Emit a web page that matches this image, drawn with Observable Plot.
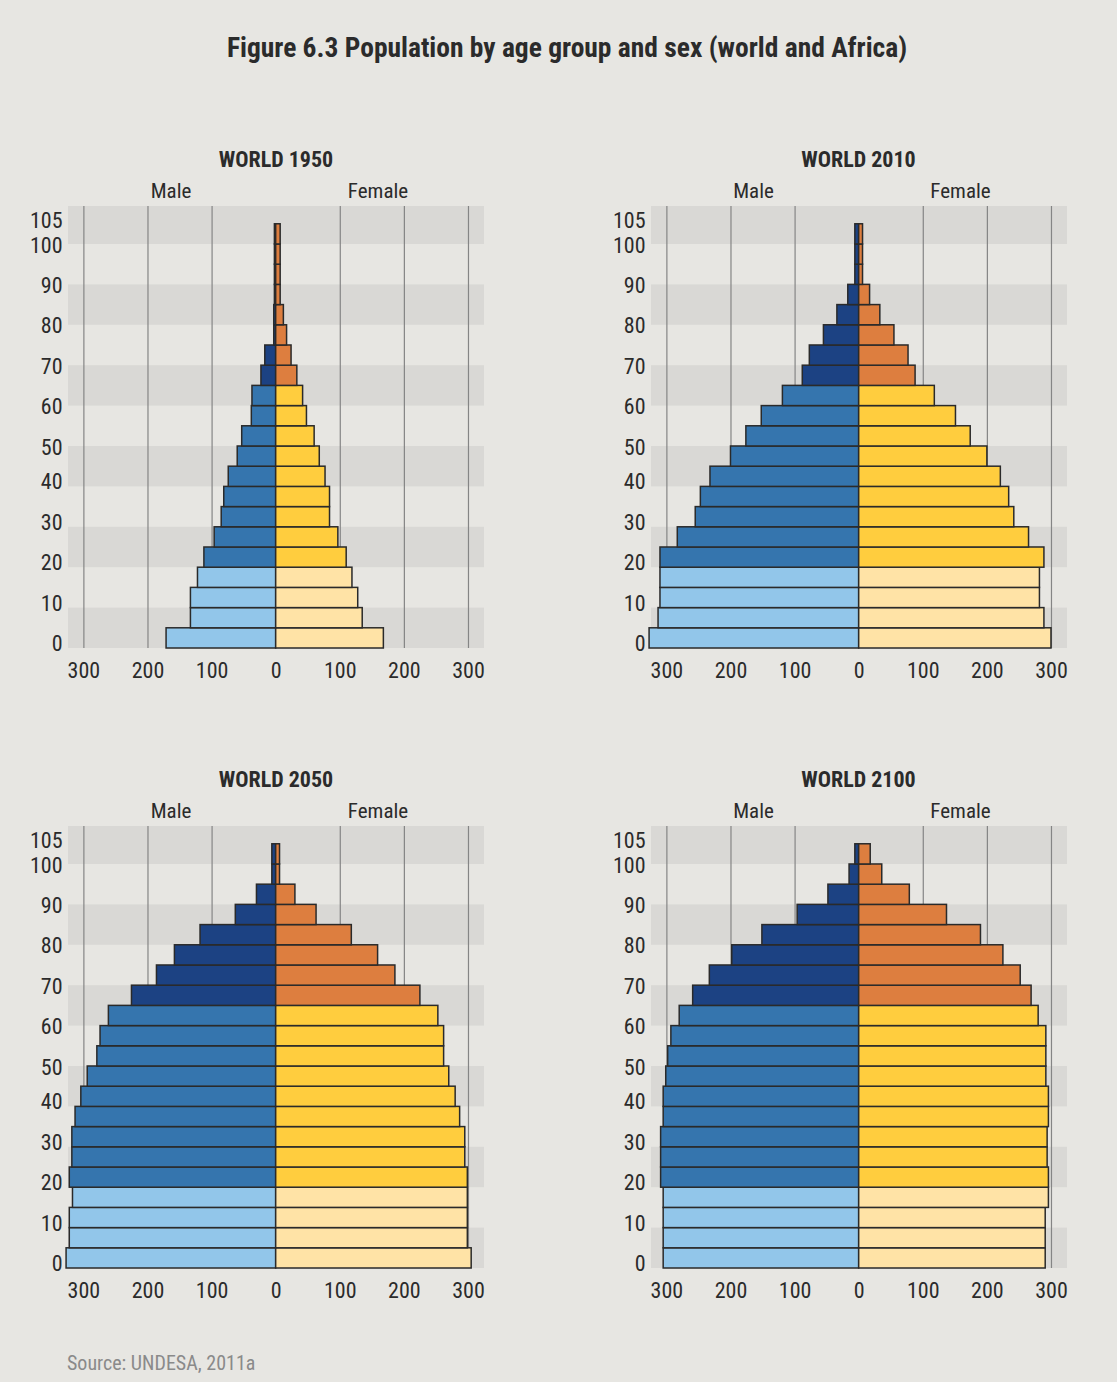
<!DOCTYPE html>
<html>
<head>
<meta charset="utf-8">
<script src="https://cdn.jsdelivr.net/npm/d3@7"></script>
<script src="https://cdn.jsdelivr.net/npm/@observablehq/plot@0.6"></script>
<style>
  body { margin: 0; background: #E7E6E2; }
  #page { position: relative; width: 1117px; height: 1382px; background: #E7E6E2; overflow: hidden; }
  .t { position: absolute; white-space: nowrap; color: #2b2b2b; line-height: 1; }
</style>
</head>
<body>
<div id="page"></div>
<script>
// ---------- data ----------
const ageGroups = [0, 5, 10, 15, 20, 25, 30, 35, 40, 45, 50, 55, 60, 65, 70, 75, 80, 85, 90, 95, 100];
const yTicksLow = [0, 10, 20, 30, 40];
const yTicksHigh = [50, 60, 70, 80, 90, 100];
const yTicksTop = [105];
const xTicks = [-300, -200, -100, 0, 100, 200, 300];
const gridValues = [-300, -200, -100, 100, 200, 300];
const bandStarts = [0, 20, 40, 60, 80, 100];
const panelTitles = ["WORLD 1950", "WORLD 2010", "WORLD 2050", "WORLD 2100"];

const male1950   = [171, 133, 133, 122, 112, 96, 85, 81, 74, 60, 53, 38, 37, 23, 17, 3, 3, 2, 2, 2, 2];
const female1950 = [168, 135, 128, 119, 110, 97, 84, 84, 77, 68, 60, 48, 42, 33, 24, 17, 12, 7, 7, 7, 7];
const male2010   = [327, 313, 310, 310, 310, 283, 255, 247, 232, 200, 176, 152, 119, 88, 77, 55, 34, 17, 6, 6, 6];
const female2010 = [300, 289, 282, 282, 289, 265, 242, 234, 221, 200, 174, 151, 118, 88, 77, 55, 33, 17, 6, 6, 6];
const male2050   = [327, 322, 322, 317, 322, 318, 318, 313, 304, 294, 279, 274, 261, 225, 186, 158, 118, 63, 30, 6, 6];
const female2050 = [305, 299, 299, 299, 299, 295, 295, 287, 280, 270, 262, 262, 253, 225, 186, 159, 118, 63, 30, 6, 6];
const male2100   = [305, 305, 305, 305, 309, 309, 309, 305, 305, 301, 298, 293, 280, 259, 233, 198, 151, 96, 48, 15, 6];
const female2100 = [291, 291, 291, 296, 296, 294, 294, 296, 296, 292, 292, 292, 280, 269, 252, 225, 190, 137, 79, 36, 18];

const panelMale = [male1950, male2010, male2050, male2100];
const panelFemale = [female1950, female2010, female2050, female2100];

const groupNames = ["m0", "m1", "m2", "f0", "f1", "f2"];
const groupColors = ["#92C6EA", "#3575AE", "#1C4283", "#FFE3A6", "#FFCD3E", "#DD7E3F"];

// ---------- layout ----------
const FONT = "'Roboto Condensed', 'Liberation Sans Narrow', 'DejaVu Sans Condensed', sans-serif";
const page = document.getElementById("page");
page.style.fontFamily = FONT;

function addText(txt, x, y, opts = {}) {
  const d = document.createElement("div");
  d.className = "t";
  d.textContent = txt;
  d.style.fontSize = (opts.size || 20) + "px";
  d.style.fontWeight = opts.bold ? "bold" : "normal";
  if (opts.color) d.style.color = opts.color;
  d.style.top = (y - (opts.size || 20) / 2) + "px";
  if (opts.anchor === "start") {
    d.style.left = x + "px";
  } else {
    d.style.left = (x - 400) + "px";
    d.style.width = "800px";
    d.style.textAlign = "center";
  }
  page.appendChild(d);
}

addText("Figure 6.3 Population by age group and sex (world and Africa)", 567, 48, {size: 27.5, bold: true});

const colStep = 582.5, rowStep = 620;
const yDomain = [0, 109.4];
const xDomain = [-324, 325];

function groupIndex(age) { return age < 20 ? 0 : age < 65 ? 1 : 2; }

for (let p = 0; p < 4; p++) {
  const c = p % 2, r = Math.floor(p / 2);
  const ox = c * colStep, oy = r * rowStep;
  const rows = [];
  ageGroups.forEach((a, i) => {
    const g = groupIndex(a);
    rows.push({age: a, x1: -panelMale[p][i], x2: 0, grp: "m" + g});
    rows.push({age: a, x1: 0, x2: panelFemale[p][i], grp: "f" + g});
  });
  const yAxisOpts = {tickSize: 0, tickPadding: 6, fontSize: 22, label: null};
  const svg = Plot.plot({
    width: 500,
    height: 497,
    marginLeft: 68,
    marginRight: 16,
    marginTop: 10,
    marginBottom: 45,
    style: {background: "transparent", fontFamily: FONT, color: "#2b2b2b", overflow: "visible"},
    x: {domain: xDomain},
    y: {domain: yDomain},
    color: {domain: groupNames, range: groupColors},
    marks: [
      Plot.rect(bandStarts, {x1: xDomain[0], x2: xDomain[1], y1: d => d, y2: d => Math.min(d + 10, yDomain[1]), fill: "#D9D8D5"}),
      Plot.ruleX(gridValues, {stroke: "#858585", strokeWidth: 1.2}),
      Plot.rect(rows, {x1: "x1", x2: "x2", y1: "age", y2: d => d.age + 5, fill: "grp", stroke: "#2a2a2a", strokeWidth: 1.5}),
      Plot.axisY(yTicksLow, {...yAxisOpts, dy: -4.5}),
      Plot.axisY(yTicksHigh, {...yAxisOpts, dy: 1}),
      Plot.axisY(yTicksTop, {...yAxisOpts, dy: -3.5}),
      Plot.axisX(xTicks, {tickSize: 0, tickPadding: 14, fontSize: 22, tickFormat: d => Math.abs(d), label: null})
    ]
  });
  svg.style.position = "absolute";
  svg.style.left = ox + "px";
  svg.style.top = (196 + oy) + "px";
  page.appendChild(svg);

  addText(panelTitles[p], 276 + ox, 160 + oy, {size: 22, bold: true});
  addText("Male", 171 + ox, 191 + oy, {size: 21});
  addText("Female", 378 + ox, 191 + oy, {size: 21});
}

addText("Source: UNDESA, 2011a", 67, 1363, {size: 20, anchor: "start", color: "#8a8a8a"});
</script>
</body>
</html>
